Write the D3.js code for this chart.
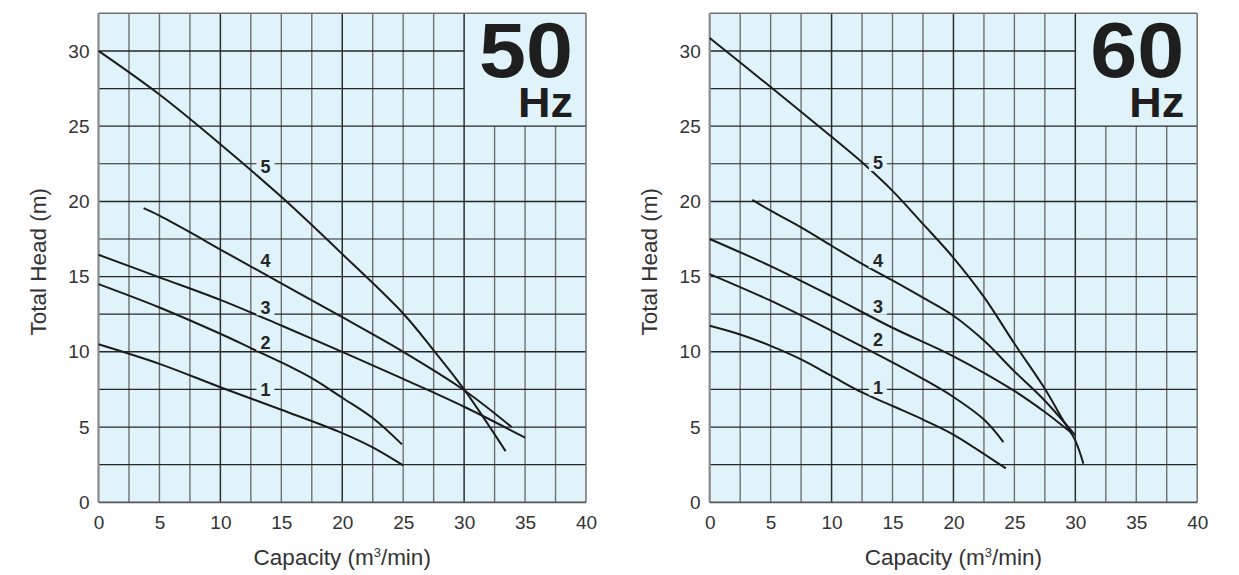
<!DOCTYPE html>
<html>
<head>
<meta charset="utf-8">
<script src="https://cdn.jsdelivr.net/npm/d3@7"></script>
<style>
  body { margin: 0; background: #fff; }
  svg { display: block; font-family: "Liberation Sans", Arial, Helvetica, sans-serif; }
</style>
</head>
<body>
<svg id="chart" width="1239" height="575"></svg>
<script>
// ---- data (capacity m3/min, total head m) ----
var xTicks = [0, 5, 10, 15, 20, 25, 30, 35, 40];
var yTicks = [0, 5, 10, 15, 20, 25, 30];
var curveNames = ["1", "2", "3", "4", "5"];

var hz50Curve1 = [[0, 10.5], [5, 9.2], [10, 7.65], [15, 6.15], [20, 4.6], [22.5, 3.65], [25, 2.45]];
var hz50Curve2 = [[0, 14.5], [5, 12.95], [10, 11.2], [12.5, 10.25], [15, 9.3], [17.5, 8.25], [20, 6.95], [22.5, 5.6], [24.9, 3.85]];
var hz50Curve3 = [[0, 16.45], [5, 14.95], [10, 13.45], [15, 11.75], [20, 10.0], [25, 8.2], [30, 6.35], [35, 4.3]];
var hz50Curve4 = [[3.7, 19.55], [5, 19.05], [7.5, 17.95], [10, 16.8], [15, 14.55], [20, 12.3], [25, 10.0], [30, 7.45], [33.9, 5.0]];
var hz50Curve5 = [[0, 30], [5, 27.1], [10, 23.8], [15, 20.3], [20, 16.5], [25, 12.55], [27.5, 10.1], [30, 7.5], [33.4, 3.4]];
var hz50LabelQ = 13.7;
var hz50LabelH = [7.48, 10.6, 12.96, 16.1, 22.35];

var hz60Curve1 = [[0, 11.73], [2.5, 11.15], [5, 10.4], [7.5, 9.5], [10, 8.4], [12.5, 7.3], [15, 6.4], [17.5, 5.5], [20, 4.5], [24.3, 2.25]];
var hz60Curve2 = [[0, 15.17], [5, 13.4], [10, 11.4], [15, 9.3], [17.5, 8.2], [20, 7.0], [22.5, 5.5], [24.1, 4.0]];
var hz60Curve3 = [[0, 17.5], [5, 15.7], [10, 13.7], [15, 11.6], [20, 9.7], [25, 7.4], [27.5, 6.0], [29.7, 4.6]];
var hz60Curve4 = [[3.5, 20.1], [5, 19.38], [7.5, 18.27], [10, 17.05], [12.5, 15.85], [15, 14.75], [17.5, 13.6], [20, 12.4], [22.5, 10.75], [25, 8.7], [27.5, 6.75], [30, 4.45]];
var hz60Curve5 = [[0, 30.86], [5, 27.6], [10, 24.3], [12.5, 22.6], [15, 20.7], [17.5, 18.5], [20, 16.25], [22.5, 13.65], [25, 10.55], [27.5, 7.55], [29, 5.45], [30, 4.1], [30.66, 2.57]];
var hz60LabelQ = 13.8;
var hz60LabelH = [7.63, 10.84, 13.0, 16.1, 22.55];

var svg = d3.select("#chart");
var bg = "#e0f3fa";

drawChart({ left: 98.5, hz: "50", curves: [hz50Curve1, hz50Curve2, hz50Curve3, hz50Curve4, hz50Curve5], labelQ: hz50LabelQ, labelH: hz50LabelH });
drawChart({ left: 709.7, hz: "60", curves: [hz60Curve1, hz60Curve2, hz60Curve3, hz60Curve4, hz60Curve5], labelQ: hz60LabelQ, labelH: hz60LabelH });

function drawChart(opt) {
    var top = 13.3, bottom = 502.3;
    var width = 487.5;
    var x = d3.scaleLinear().domain([0, 40]).range([0, width]);
    var y = d3.scaleLinear().domain([0, 32.5]).range([bottom - top, 0]);
    var boxQ = 30, boxH = 25;

    var g = svg.append("g").attr("transform", "translate(" + opt.left + "," + top + ")");

    g.append("rect")
        .attr("width", width)
        .attr("height", bottom - top)
        .attr("fill", bg);

    // vertical grid (gray, every 10 darker)
    var vs = d3.range(2.5, 40, 2.5);
    g.selectAll(".vgrid")
        .data(vs)
        .enter()
        .append("line")
        .attr("x1", d => x(d))
        .attr("x2", d => x(d))
        .attr("y1", d => d > boxQ ? y(boxH) : 0)
        .attr("y2", y(0))
        .attr("stroke", d => d % 10 === 0 ? "#2e2e2e" : "#707070")
        .attr("stroke-width", d => d % 10 === 0 ? 1.5 : 1.4);

    // horizontal grid (dark)
    var hs = d3.range(2.5, 32.5, 2.5);
    g.selectAll(".hgrid")
        .data(hs)
        .enter()
        .append("line")
        .attr("x1", 0)
        .attr("x2", d => d > boxH ? x(boxQ) : width)
        .attr("y1", d => y(d))
        .attr("y2", d => y(d))
        .attr("stroke", "#262626")
        .attr("stroke-width", d => d % 10 === 0 ? 1.5 : 1.2);

    // frame
    g.append("line").attr("x1", 0).attr("x2", width).attr("y1", 0).attr("y2", 0)
        .attr("stroke", "#707070").attr("stroke-width", 1.5);
    g.append("line").attr("x1", width).attr("x2", width).attr("y1", 0).attr("y2", y(0))
        .attr("stroke", "#707070").attr("stroke-width", 1.5);
    g.append("line").attr("x1", 0).attr("x2", 0).attr("y1", 0).attr("y2", y(0))
        .attr("stroke", "#8a8a8a").attr("stroke-width", 2.2);
    g.append("line").attr("x1", 0).attr("x2", width).attr("y1", y(0)).attr("y2", y(0))
        .attr("stroke", "#555").attr("stroke-width", 1.8);

    // curves
    var line = d3.line()
        .x(d => x(d[0]))
        .y(d => y(d[1]))
        .curve(d3.curveCatmullRom.alpha(0.5));
    g.selectAll(".curve")
        .data(opt.curves)
        .enter()
        .append("path")
        .attr("d", line)
        .attr("fill", "none")
        .attr("stroke", "#1c1c1c")
        .attr("stroke-width", 2);

    // curve labels
    var lab = g.selectAll(".lab")
        .data(curveNames)
        .enter()
        .append("g")
        .attr("transform", (d, i) => "translate(" + x(opt.labelQ) + "," + y(opt.labelH[i]) + ")");
    lab.append("rect")
        .attr("x", -9).attr("y", -8).attr("width", 18).attr("height", 16)
        .attr("fill", bg);
    lab.append("text")
        .text(d => d)
        .attr("text-anchor", "middle")
        .attr("dy", "0.36em")
        .style("font-size", "18px")
        .style("font-weight", "bold")
        .attr("fill", "#262626");

    // Hz box: big frequency number and unit
    g.append("text")
        .text(opt.hz)
        .attr("x", width - 13)
        .attr("y", 77 - top)
        .attr("text-anchor", "end")
        .attr("textLength", 94)
        .attr("lengthAdjust", "spacingAndGlyphs")
        .style("font-size", "78px")
        .style("font-weight", "bold")
        .attr("fill", "#1e1e1e");
    g.append("text")
        .text("Hz")
        .attr("x", width - 13)
        .attr("y", 117 - top)
        .attr("text-anchor", "end")
        .attr("textLength", 55)
        .attr("lengthAdjust", "spacingAndGlyphs")
        .style("font-size", "42px")
        .style("font-weight", "bold")
        .attr("fill", "#1e1e1e");

    // axes
    var xAxis = d3.axisBottom(x).tickValues(xTicks).tickSize(0).tickPadding(13);
    var gx = g.append("g").attr("transform", "translate(0," + y(0) + ")").call(xAxis);
    var yAxis = d3.axisLeft(y).tickValues(yTicks).tickSize(0).tickPadding(9);
    var gy = g.append("g").call(yAxis);
    [gx, gy].forEach(function (a) {
        a.select(".domain").remove();
        a.selectAll("text")
            .style("font-size", "19px")
            .style("font-family", "Liberation Sans, Arial, sans-serif")
            .attr("fill", "#333");
    });

    // axis titles
    var xt = g.append("text")
        .attr("x", width / 2)
        .attr("y", y(0) + 63)
        .attr("text-anchor", "middle")
        .style("font-size", "22.5px")
        .attr("fill", "#333");
    xt.append("tspan").text("Capacity (m");
    xt.append("tspan").text("3").attr("dy", -8).style("font-size", "13px");
    xt.append("tspan").text("/min)").attr("dy", 8);

    g.append("text")
        .attr("transform", "translate(" + (-52.5) + "," + ((bottom - top) / 2 + 4) + ") rotate(-90)")
        .attr("text-anchor", "middle")
        .style("font-size", "22.5px")
        .attr("fill", "#333")
        .text("Total Head (m)");
}
</script>
</body>
</html>
